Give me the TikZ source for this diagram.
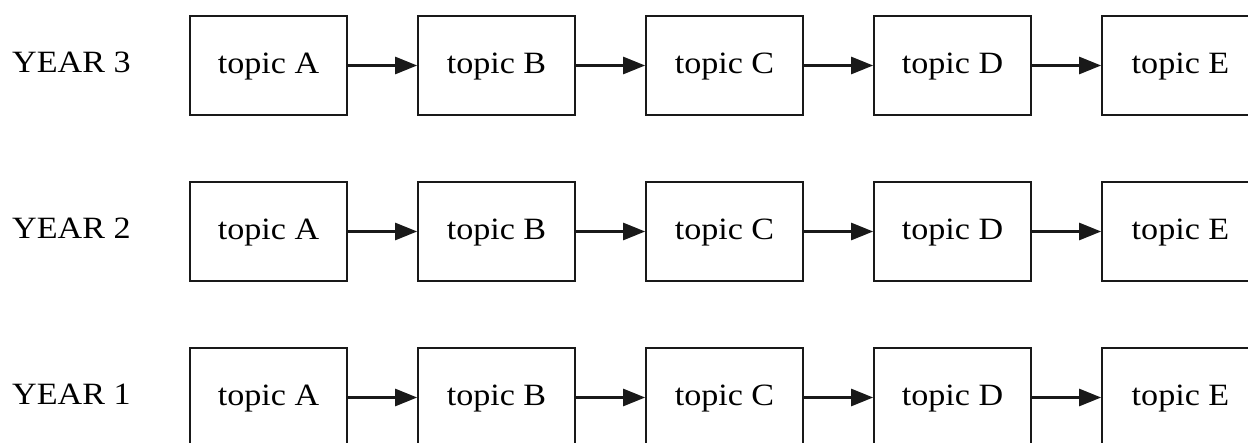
\documentclass[tikz,border=0pt]{standalone}
\usepackage{fontspec}
\setmainfont{Liberation Serif}[FakeStretch=1.1]
\usetikzlibrary{arrows.meta}
\tikzset{
  topicbox/.style={draw=black!90, line width=2.7pt, minimum width=157pt,
    minimum height=99pt, inner sep=0pt, text height=23pt, text depth=6pt,
    font=\fontsize{31}{36}\selectfont},
  yearlabel/.style={anchor=base west, inner sep=0pt, font=\fontsize{31}{36}\selectfont},
  flow/.style={line width=2.7pt, draw=black!90,
    -{Triangle[length=22pt,width=17pt]}, shorten >=-0.5pt},
}
\begin{document}
\begin{tikzpicture}[x=1pt,y=-1pt]
  \useasboundingbox (0,0) rectangle (1248,443);
  \clip (0,0) rectangle (1248,443);
  % three rows of topics, YEAR 3 on top
  \foreach \yr/\cy in {3/65.5, 2/231.5, 1/397.5} {
    \node[yearlabel] (year\yr) at (12,\cy+7) {YEAR \yr};
    \foreach \t [count=\i] in {A,B,C,D,E} {
      \node[topicbox] (t\yr\t) at ({268.5+228*(\i-1)},\cy) {topic \t};
    }
    \draw[flow] (t\yr A.east) -- (t\yr B.west);
    \draw[flow] (t\yr B.east) -- (t\yr C.west);
    \draw[flow] (t\yr C.east) -- (t\yr D.west);
    \draw[flow] (t\yr D.east) -- (t\yr E.west);
  }
\end{tikzpicture}
\end{document}
